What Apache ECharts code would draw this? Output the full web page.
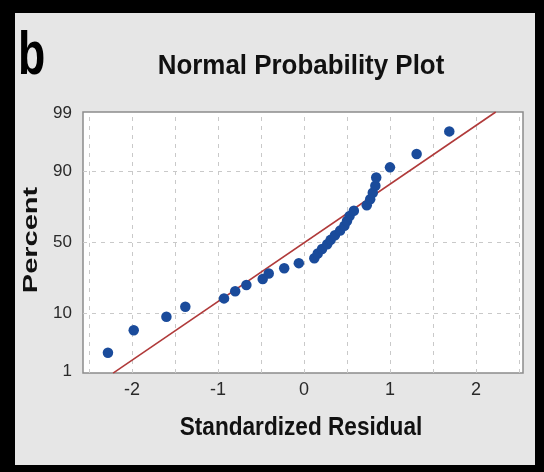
<!DOCTYPE html>
<html>
<head>
<meta charset="utf-8">
<script src="https://cdn.jsdelivr.net/npm/echarts@6/dist/echarts.min.js"></script>
<style>
  html, body { margin: 0; padding: 0; background: #000; width: 544px; height: 472px; overflow: hidden; }
  #chart { position: absolute; left: 15px; top: 13px; width: 520px; height: 452px; }
</style>
</head>
<body>
<div id="chart"></div>
<script>
// ---- data ----
const residuals = [-2.28, -1.98, -1.60, -1.38, -0.93, -0.80, -0.67, -0.48, -0.41, -0.23,
                   -0.06, 0.12, 0.16, 0.21, 0.27, 0.31, 0.36, 0.42, 0.47, 0.50,
                   0.53, 0.58, 0.73, 0.77, 0.80, 0.83, 0.84, 1.00, 1.31, 1.69];
const percents  = [2.3, 5.6, 8.9, 12.2, 15.5, 18.8, 22.0, 25.3, 28.6, 31.9,
                   35.2, 38.5, 41.8, 45.1, 48.4, 51.6, 54.9, 58.2, 61.5, 64.8,
                   68.1, 71.4, 74.7, 78.0, 81.3, 84.5, 87.8, 91.1, 94.4, 97.7];
const fitX   = [-2.22, 2.23];
const fitPct = [0.91, 99.05];
const xTicks = [-2, -1, 0, 1, 2];
const xGrid  = [-2.5, -2, -1.5, -1, -0.5, 0, 0.5, 1, 1.5, 2, 2.5];
const yTickPct = [1, 10, 50, 90, 99];
const yGridPct = [10, 50, 90];

// normal quantile (probability scale transform)
function qnorm(p) {
  const a = [-3.969683028665376e+01, 2.209460984245205e+02, -2.759285104469687e+02, 1.383577518672690e+02, -3.066479806614716e+01, 2.506628277459239e+00];
  const b = [-5.447609879822406e+01, 1.615858368580409e+02, -1.556989798598866e+02, 6.680131188771972e+01, -1.328068155288572e+01];
  const c = [-7.784894002430293e-03, -3.223964580411365e-01, -2.400758277161838e+00, -2.549732539343734e+00, 4.374664141464968e+00, 2.938163982698783e+00];
  const d = [7.784695709041462e-03, 3.224671290700398e-01, 2.445134137142996e+00, 3.754408661907416e+00];
  const pl = 0.02425, ph = 1 - pl;
  let q, r;
  if (p < pl) {
    q = Math.sqrt(-2 * Math.log(p));
    return (((((c[0]*q+c[1])*q+c[2])*q+c[3])*q+c[4])*q+c[5]) / ((((d[0]*q+d[1])*q+d[2])*q+d[3])*q+1);
  } else if (p <= ph) {
    q = p - 0.5; r = q*q;
    return (((((a[0]*r+a[1])*r+a[2])*r+a[3])*r+a[4])*r+a[5])*q / (((((b[0]*r+b[1])*r+b[2])*r+b[3])*r+b[4])*r+1);
  } else {
    q = Math.sqrt(-2 * Math.log(1 - p));
    return -(((((c[0]*q+c[1])*q+c[2])*q+c[3])*q+c[4])*q+c[5]) / ((((d[0]*q+d[1])*q+d[2])*q+d[3])*q+1);
  }
}

const FONT = "'Liberation Sans', Arial, sans-serif";
const yTickZ = yTickPct.map(p => qnorm(p / 100));
const points = residuals.map((x, i) => [x, qnorm(percents[i] / 100)]);
const fitLine = fitX.map((x, i) => [x, qnorm(fitPct[i] / 100)]);
const gridLineStyle = { color: '#c9c9c9', width: 1, type: [4, 5] };
const gridMarks = xGrid.map(v => ({ xAxis: v }))
  .concat(yGridPct.map(p => ({ yAxis: qnorm(p / 100) })));

const chart = echarts.init(document.getElementById('chart'), null, { renderer: 'canvas' });
chart.setOption({
  animation: false,
  backgroundColor: '#e6e6e6',
  grid: { left: 68, top: 99, right: 12, bottom: 92, show: true, backgroundColor: '#ffffff',
          borderColor: '#8c8c8c', borderWidth: 1.5 },
  xAxis: {
    type: 'value', min: -2.57, max: 2.547,
    axisLine: { show: false },
    splitLine: { show: false },
    axisTick: { show: false },
    axisLabel: { customValues: xTicks, fontSize: 18, color: '#2a2a2a', margin: 8, fontFamily: FONT }
  },
  yAxis: {
    type: 'value', min: -2.36, max: 2.345,
    axisLine: { show: false },
    splitLine: { show: false },
    axisTick: { show: false },
    axisLabel: {
      customValues: yTickZ, fontSize: 17, color: '#2a2a2a', margin: 11, fontFamily: FONT,
      formatter: function (v) {
        for (let i = 0; i < yTickZ.length; i++) if (Math.abs(yTickZ[i] - v) < 1e-6) return String(yTickPct[i]);
        return '';
      }
    }
  },
  series: [
    {
      type: 'line', data: [], z: 1, silent: true,
      markLine: { silent: true, z: 1, symbol: ['none', 'none'], label: { show: false },
                  lineStyle: gridLineStyle, emphasis: { disabled: true }, data: gridMarks, animation: false }
    },
    {
      type: 'line', data: fitLine, z: 3, symbol: 'none', silent: true,
      lineStyle: { color: '#b03a3a', width: 1.6 }
    },
    {
      type: 'scatter', data: points, z: 4, symbol: 'circle', symbolSize: 10.5, silent: true,
      itemStyle: { color: '#1a4b9b', opacity: 1 }
    }
  ],
  graphic: [
    { type: 'text', x: 3, y: 44, scaleX: 0.72, silent: true,
      style: { text: 'b', font: 'bold 62px ' + FONT, fill: '#000', textAlign: 'left', textVerticalAlign: 'middle', align: 'left', verticalAlign: 'middle' } },
    { type: 'text', x: 286, y: 54, scaleX: 0.96, silent: true,
      style: { text: 'Normal Probability Plot', font: 'bold 27px ' + FONT, fill: '#111', textAlign: 'center', textVerticalAlign: 'middle', align: 'center', verticalAlign: 'middle' } },
    { type: 'text', x: 286, y: 415, scaleX: 0.87, silent: true,
      style: { text: 'Standardized Residual', font: 'bold 26px ' + FONT, fill: '#111', textAlign: 'center', textVerticalAlign: 'middle', align: 'center', verticalAlign: 'middle' } },
    { type: 'text', x: 16, y: 227, rotation: Math.PI / 2, scaleX: 1.38, silent: true,
      style: { text: 'Percent', font: 'bold 21px ' + FONT, fill: '#111', textAlign: 'center', textVerticalAlign: 'middle', align: 'center', verticalAlign: 'middle' } }
  ]
});
</script>
</body>
</html>
